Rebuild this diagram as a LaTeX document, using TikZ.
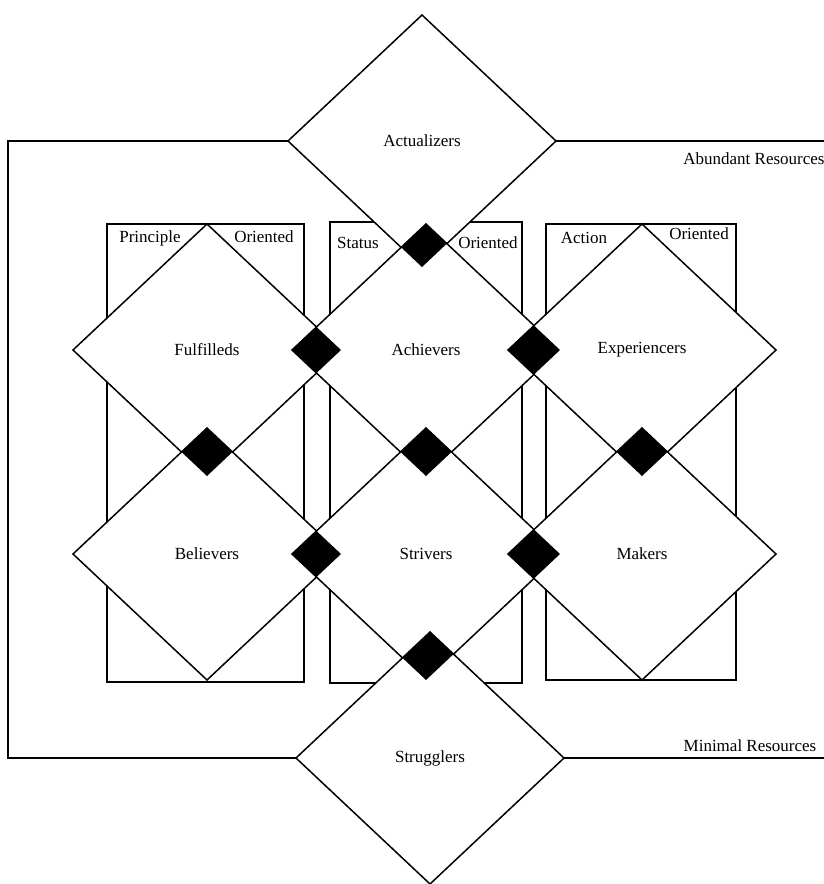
\documentclass[tikz,border=0pt]{standalone}
\usepackage{fontspec}
\setmainfont{Liberation Serif}
\usetikzlibrary{
  shapes.geometric,
}
\tikzset{
  segment/.style={draw, fill=white, shape=diamond, aspect=1,
    inner sep=0pt, outer sep=0pt,
    minimum width=268pt, minimum height=252pt},
  orientbox/.style={draw},
  tag/.style={inner sep=0pt},
}
\newcommand{\rhombpath}[1]{(#1.north) -- (#1.east) -- (#1.south) -- (#1.west) -- cycle}

\begin{document}
\begin{tikzpicture}[x=1pt, y=-1pt, line width=1.5pt,
    font=\fontsize{17}{20}\selectfont]
    \useasboundingbox (0,0) rectangle (824,884);

    % the three orientation boxes
    \foreach \xa/\ya/\xb/\yb in {107/224/304/682, 330/222/522/683, 546/224/736/680} {
      \draw[orientbox] (\xa,\ya) rectangle (\xb,\yb);
    }

    % the segments
    \node[segment] (actu) at (422,141) {Actualizers};
    \node[segment] (ful) at (207,350) {Fulfilleds};
    \node[segment] (ach) at (426,350) {Achievers};
    \node[segment] (exp) at (642,350) {Experiencers};
    \node[segment] (bel) at (207,554) {Believers};
    \node[segment] (str) at (426,554) {Strivers};
    \node[segment] (mak) at (642,554) {Makers};
    \node[segment] (strug) at (430,758) {Strugglers};

    % black where two segments overlap
    \foreach \a/\b in {actu/ach, ful/ach, ach/exp, ful/bel, ach/str,
                       exp/mak, bel/str, str/mak, str/strug} {
      \begin{scope} % clip in a new scope
        \clip \rhombpath{\a};
        \fill[black] \rhombpath{\b};
      \end{scope}
    }

    % box headings
    \node[tag] (prin) at (150,238) {Principle};
    \node[tag] (orient1) at (264,237) {Oriented};
    \node[tag] (stat) at (358,243) {Status};
    \node[tag] (orient2) at (488,243) {Oriented};
    \node[tag] (acti) at (584,238) {Action};
    \node[tag] (orient3) at (699,234) {Oriented};

    % resource frame
    \coordinate (frameL) at (8,0);
    \coordinate (frameR) at (824,0);
    \draw (actu.west) -- (actu.west -| frameL) -- (strug.west -| frameL) -- (strug.west);
    \draw (actu.east) -- (actu.east -| frameR);
    \draw (strug.east) -- (strug.east -| frameR);
    \node[tag] (abund) at (754,159) {Abundant Resources};
    \node[tag] (minim) at (750,746) {Minimal Resources};
  \end{tikzpicture}
\end{document}
